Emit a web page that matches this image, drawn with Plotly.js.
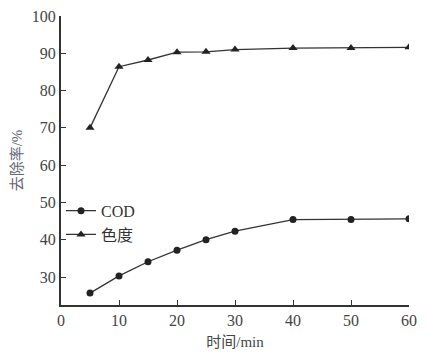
<!DOCTYPE html>
<html><head><meta charset="utf-8">
<script src="https://cdn.plot.ly/plotly-3.0.1.min.js"></script>
<style>body{margin:0;background:#fff}#c{width:428px;height:357px}</style>
</head><body><div id="c"></div>
<script>
var times = [5, 10, 15, 20, 25, 30, 40, 50, 60];
var codRemoval = [25.7, 30.3, 34.1, 37.2, 40.0, 42.3, 45.4, 45.4, 45.6];
var colorRemoval = [70.0, 86.4, 88.2, 90.3, 90.4, 91.0, 91.4, 91.4, 91.6];
var seriesNames = ["COD", "色度"];
var xTicks = [0, 10, 20, 30, 40, 50, 60];
var yTicks = [30, 40, 50, 60, 70, 80, 90, 100];

var fontNum = "Liberation Serif, Times New Roman, serif";
var fontCJK = "Liberation Serif, Noto Sans CJK SC, serif";
var lineC = "#333";

var traces = [
  {x: times, y: codRemoval, name: seriesNames[0], mode: "lines+markers",
   line: {color: lineC, width: 1.3}, marker: {symbol: "circle", size: 7, color: "#222"}},
  {x: times, y: colorRemoval, name: seriesNames[1], mode: "lines+markers",
   line: {color: lineC, width: 1.3}, marker: {symbol: "triangle-up", size: 8, color: "#222"}}
];

var layout = {
  width: 428, height: 357,
  margin: {l: 61, r: 19, t: 16, b: 52},
  paper_bgcolor: "#fff", plot_bgcolor: "#fff",
  showlegend: true,
  legend: {x: 0.0, y: 0.385, xanchor: "left", yanchor: "top",
    font: {family: fontCJK, size: 16, color: "#333"}, bgcolor: "rgba(0,0,0,0)",
    tracegroupgap: 0, itemwidth: 30},
  xaxis: {range: [0, 60], tickvals: xTicks, ticks: "inside", ticklen: 5,
    tickcolor: lineC, showline: true, linecolor: lineC, linewidth: 2,
    showgrid: false, zeroline: false,
    tickfont: {family: fontNum, size: 16, color: "#444"},
    title: {text: "时间/min", font: {family: fontCJK, size: 15, color: "#444"}, standoff: 8}},
  yaxis: {range: [22.5, 100], tickvals: yTicks, ticks: "inside", ticklen: 5,
    tickcolor: lineC, showline: true, linecolor: lineC, linewidth: 2,
    showgrid: false, zeroline: false,
    tickfont: {family: fontNum, size: 16, color: "#444"},
    title: {text: "去除率/%", font: {family: fontCJK, size: 15, color: "#667"}, standoff: 6}}
};
Plotly.newPlot("c", traces, layout, {displayModeBar: false, staticPlot: true});
</script></body></html>
